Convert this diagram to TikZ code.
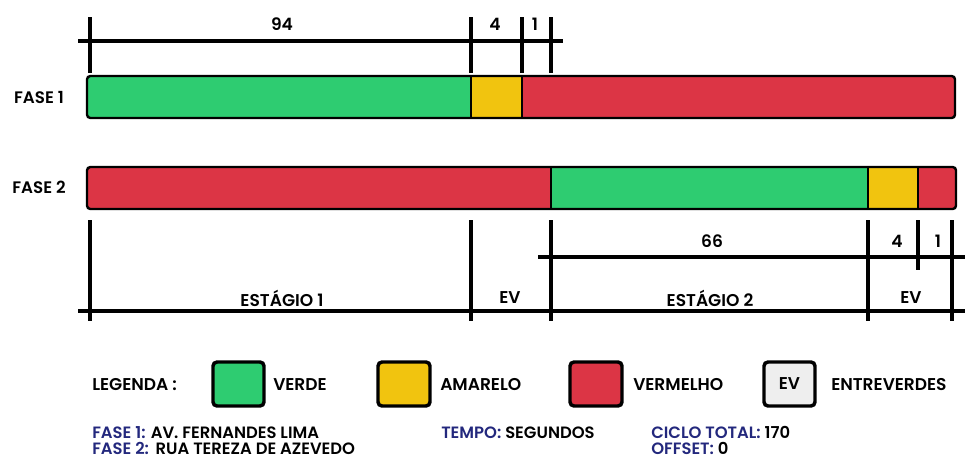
\documentclass[tikz,border=0pt]{standalone}
\usepackage{fontspec}
\setmainfont{Poppins}[BoldFont={Poppins SemiBold}]
\definecolor{cgreen}{RGB}{46,204,113}
\definecolor{cyellow}{RGB}{241,196,15}
\definecolor{cred}{RGB}{220,53,69}
\definecolor{cgray}{RGB}{238,238,238}
\definecolor{cblue}{RGB}{35,40,125}
\begin{document}
\begin{tikzpicture}[x=0.75pt,y=-0.75pt,
  dim/.style={line width=2.7pt},
  barline/.style={line width=1.8pt, rounded corners=2.5pt},
  divline/.style={line width=1.5pt},
  numtxt/.style={font=\bfseries\fontsize{12.8}{14}\selectfont, inner sep=0pt},
  phtxt/.style={font=\bfseries\fontsize{12.5}{14}\selectfont, inner sep=0pt},
  legtxt/.style={font=\bfseries\fontsize{12.8}{14}\selectfont, inner sep=0pt, anchor=west},
  legbox/.style={line width=2.6pt, rounded corners=3pt},
  inftxt/.style={font=\bfseries\fontsize{12.3}{14}\selectfont, inner sep=0pt, anchor=base west}]
\useasboundingbox (0,0) rectangle (965,461);

% ---------- FASE 1 bar ----------
\node[phtxt] (f1) at (39,97) {FASE 1};
\begin{scope}
  \clip[rounded corners=2.5pt] (87,76) rectangle (955,118);
  \fill[cgreen] (87,76) rectangle (471,118);
  \fill[cyellow] (471,76) rectangle (522,118);
  \fill[cred] (522,76) rectangle (955,118);
\end{scope}
\draw[divline] (471,76) -- (471,118) (522,76) -- (522,118);
\draw[barline] (87,76) rectangle (955,118);

% top dimensions
\draw[dim] (78,41) -- (563,41);
\foreach \x in {90,471,522,551} \draw[dim] (\x,17) -- (\x,73);
\node[numtxt] (d94) at (282,24) {94};
\node[numtxt] (d4a) at (495,24) {4};
\node[numtxt] (d1a) at (535,24) {1};

% ---------- FASE 2 bar ----------
\node[phtxt] (f2) at (39,187) {FASE 2};
\begin{scope}
  \clip[rounded corners=2.5pt] (87,167) rectangle (956,209);
  \fill[cred] (87,167) rectangle (551,209);
  \fill[cgreen] (551,167) rectangle (868,209);
  \fill[cyellow] (868,167) rectangle (918,209);
  \fill[cred] (918,167) rectangle (956,209);
\end{scope}
\draw[divline] (551,167) -- (551,209) (868,167) -- (868,209) (918,167) -- (918,209);
\draw[barline] (87,167) rectangle (956,209);

% lower dimensions
\draw[dim] (78,311) -- (965,311);
\draw[dim] (538,257) -- (965,257);
\foreach \x in {90,471,551,868,952} \draw[dim] (\x,220) -- (\x,321);
\draw[dim] (918,220) -- (918,270);
\node[numtxt] (d66) at (712,241) {66};
\node[numtxt] (d4b) at (897,241) {4};
\node[numtxt] (d1b) at (938,241) {1};
\node[numtxt] (s1) at (282,298) {ESTÁGIO 1};
\node[numtxt] (ev1) at (510,298) {EV};
\node[numtxt] (s2) at (710,298) {ESTÁGIO 2};
\node[numtxt] (ev2) at (911,298) {EV};

% ---------- legend ----------
\node[legtxt] (leg) at (92,385) {LEGENDA :};
\draw[legbox, fill=cgreen] (213,362) rectangle (264,406);
\node[legtxt] (lv) at (273,385) {VERDE};
\draw[legbox, fill=cyellow] (378,362) rectangle (430,406);
\node[legtxt] (la) at (440,385) {AMARELO};
\draw[legbox, fill=cred] (570,362) rectangle (622,406);
\node[legtxt] (lr) at (633,385) {VERMELHO};
\draw[legbox, fill=cgray] (764,362) rectangle (815,406);
\node[numtxt] (lev) at (789.5,384) {EV};
\node[legtxt] (le) at (831,385) {ENTREVERDES};

% ---------- info ----------
\node[inftxt] (i1) at (92,438) {\textcolor{cblue}{FASE 1:} AV. FERNANDES LIMA};
\node[inftxt] (i2) at (92,454) {\textcolor{cblue}{FASE 2:}\ \,RUA TEREZA DE AZEVEDO};
\node[inftxt] (i3) at (441,438) {\textcolor{cblue}{TEMPO:} SEGUNDOS};
\node[inftxt] (i4) at (651,438) {\textcolor{cblue}{CICLO TOTAL:} 170};
\node[inftxt] (i5) at (651,454) {\textcolor{cblue}{OFFSET:} 0};
\end{tikzpicture}
\end{document}
